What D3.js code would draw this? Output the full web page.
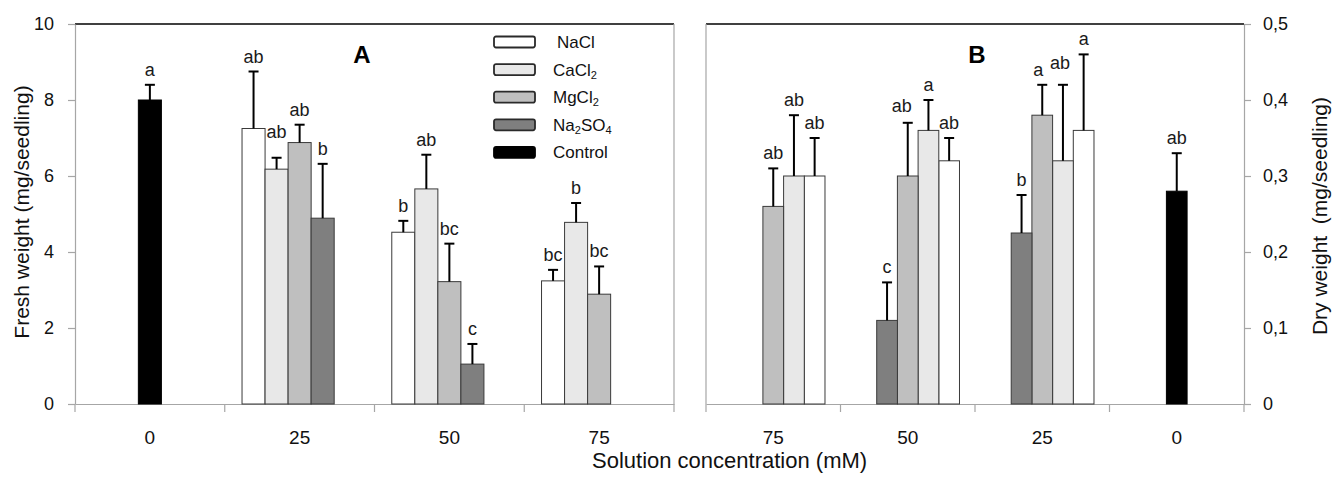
<!DOCTYPE html>
<html>
<head>
<meta charset="utf-8">
<script src="https://cdn.jsdelivr.net/npm/d3@7"></script>
<style>
  html, body { margin: 0; padding: 0; background: #fff; }
  svg { display: block; font-family: "Liberation Sans", Arial, sans-serif; }
</style>
</head>
<body>
<svg id="chart" width="1336" height="477"></svg>
<script>
// ─── Datos ────────────────────────────────────────────────────────────────────

const series  = ['NaCl', 'CaCl2', 'MgCl2', 'Na2SO4', 'Control'];
const groupsA = ['0', '25', '50', '75'];      // panel A: peso fresco
const groupsB = ['75', '50', '25', '0'];      // panel B: peso seco (eje invertido)

const ticksA = [0, 2, 4, 6, 8, 10];
const ticksB = [0, 0.1, 0.2, 0.3, 0.4, 0.5];

// filas en el orden de `series`, columnas en el orden de groupsA
const freshMean = [
  [null, 7.25, 4.52, 3.24],
  [null, 6.18, 5.66, 4.78],
  [null, 6.88, 3.22, 2.89],
  [null, 4.89, 1.05, null],
  [8.0,  null, null, null],
];
const freshErr = [
  [null, 1.50, 0.30, 0.29],
  [null, 0.30, 0.90, 0.51],
  [null, 0.47, 1.00, 0.73],
  [null, 1.43, 0.53, null],
  [0.40, null, null, null],
];
const freshLetters = [
  [null, 'ab', 'b',  'bc'],
  [null, 'ab', 'ab', 'b'],
  [null, 'ab', 'bc', 'bc'],
  [null, 'b',  'c',  null],
  ['a',  null, null, null],
];

// filas en el orden de `series`, columnas en el orden de groupsB
const dryMean = [
  [0.30, 0.32, 0.36,  null],
  [0.30, 0.36, 0.32,  null],
  [0.26, 0.30, 0.38,  null],
  [null, 0.11, 0.225, null],
  [null, null, null,  0.28],
];
const dryErr = [
  [0.05, 0.03, 0.10, null],
  [0.08, 0.04, 0.10, null],
  [0.05, 0.07, 0.04, null],
  [null, 0.05, 0.05, null],
  [null, null, null, 0.05],
];
const dryLetters = [
  ['ab', 'ab', 'a',  null],
  ['ab', 'a',  'ab', null],
  ['ab', 'ab', 'a',  null],
  [null, 'c',  'b',  null],
  [null, null, null, 'ab'],
];

// ─── Estilo ───────────────────────────────────────────────────────────────────

const FILL = { NaCl: '#ffffff', CaCl2: '#e8e8e8', MgCl2: '#bfbfbf', Na2SO4: '#7f7f7f', Control: '#000000' };
const AXIS = '#a6a6a6';
const TOP = 24, BASE = 404;

// Ajustes manuales de las letras que se solapan (dx, dy)
const NUDGE_A = { 'CaCl2|25': [0, -11] };
const NUDGE_B = { 'CaCl2|25': [-3, -7], 'MgCl2|25': [-4, 0], 'MgCl2|50': [-6, -2] };

const svg = d3.select('#chart');

function subLabel(sel, name) {
  // CaCl2 → CaCl₂ (los números van como subíndice)
  name.match(/[A-Za-z]+|\d+/g).forEach(p => {
    const t = sel.append('tspan').text(p);
    if (/\d/.test(p)) t.attr('font-size', '0.65em').attr('baseline-shift', '-25%');
  });
}

// ─── Panel ────────────────────────────────────────────────────────────────────

function drawPanel({ x0, x1, groups, slotOrder, yMax, ticks, fmt, mean, err, letters, nudge, side, letter, letterX }) {
  const x = d3.scaleBand().domain(groups).range([x0, x1]).paddingInner(0).paddingOuter(0);
  const xs = d3.scaleBand().domain(slotOrder).range([0, x.bandwidth()]).paddingInner(0).paddingOuter(0.75);
  const y = d3.scaleLinear().domain([0, yMax]).range([BASE, TOP]);
  const g = svg.append('g');

  // marco: línea superior negra, lados grises
  g.append('line').attr('x1', x0).attr('x2', x1).attr('y1', TOP).attr('y2', TOP)
    .attr('stroke', '#000').attr('stroke-width', 1.5);
  const frameX = side === 'left' ? x1 : x0;
  g.append('line').attr('x1', frameX).attr('x2', frameX).attr('y1', TOP).attr('y2', BASE)
    .attr('stroke', AXIS).attr('stroke-width', 1.2);

  // eje Y
  const yAxis = (side === 'left' ? d3.axisLeft(y) : d3.axisRight(y))
    .tickValues(ticks).tickFormat(fmt).tickSize(7).tickPadding(side === 'left' ? 14 : 12).tickSizeOuter(0);
  const ya = g.append('g')
    .attr('transform', `translate(${side === 'left' ? x0 : x1},0)`)
    .call(yAxis);
  ya.selectAll('path, line').attr('stroke', AXIS).attr('stroke-width', 1.2);
  ya.selectAll('text').attr('font-size', 18).attr('fill', '#111');
  ya.attr('font-family', null);

  // eje X
  const xa = g.append('g').attr('transform', `translate(0,${BASE})`)
    .call(d3.axisBottom(x).tickSize(0).tickPadding(27).tickSizeOuter(0));
  xa.select('.domain').attr('stroke', AXIS).attr('stroke-width', 1.2);
  xa.selectAll('text').attr('font-size', 19).attr('fill', '#111');
  xa.attr('font-family', null);
  const bounds = groups.map(d => x(d)).concat([x1]);
  xa.selectAll('.bound').data(bounds).join('line').attr('class', 'bound')
    .attr('x1', d => d).attr('x2', d => d).attr('y1', 0).attr('y2', 8)
    .attr('stroke', AXIS).attr('stroke-width', 1.2);

  // barras
  const rows = [];
  series.forEach((s, si) => groups.forEach((grp, gi) => {
    const v = mean[si][gi];
    if (v == null) return;
    const bw = xs.bandwidth();
    const left = s === 'Control'
      ? x(grp) + x.bandwidth() / 2 - bw / 2
      : x(grp) + xs(s);
    rows.push({ s, grp, v, e: err[si][gi], txt: letters[si][gi], left, bw });
  }));

  g.append('g').selectAll('rect').data(rows).join('rect')
    .attr('x', d => d.left).attr('width', d => d.bw)
    .attr('y', d => y(d.v)).attr('height', d => BASE - y(d.v))
    .attr('fill', d => FILL[d.s])
    .attr('stroke', d => d.s === 'Control' ? '#000' : '#3a3a3a')
    .attr('stroke-width', 1);

  // barras de error (solo la mitad superior)
  const eb = g.append('g').attr('stroke', '#000').attr('stroke-width', 2);
  rows.forEach(d => {
    const cx = d.left + d.bw / 2;
    const yt = y(d.v + d.e);
    eb.append('line').attr('x1', cx).attr('x2', cx).attr('y1', y(d.v)).attr('y2', yt);
    eb.append('line').attr('x1', cx - 5).attr('x2', cx + 5).attr('y1', yt).attr('y2', yt);
  });

  // letras de significancia
  g.append('g').selectAll('text').data(rows.filter(d => d.txt)).join('text')
    .attr('x', d => d.left + d.bw / 2 + (nudge[`${d.s}|${d.grp}`] || [0, 0])[0])
    .attr('y', d => y(d.v + d.e) - 9 + (nudge[`${d.s}|${d.grp}`] || [0, 0])[1])
    .attr('text-anchor', 'middle')
    .attr('font-size', 18).attr('fill', '#1a1a1a')
    .text(d => d.txt);

  // letra del panel
  g.append('text').attr('x', letterX).attr('y', 63)
    .attr('text-anchor', 'middle').attr('font-size', 24).attr('font-weight', 'bold')
    .text(letter);
}

drawPanel({
  x0: 75, x1: 674, groups: groupsA, slotOrder: series, yMax: 10,
  ticks: ticksA, fmt: d3.format('d'),
  mean: freshMean, err: freshErr, letters: freshLetters, nudge: NUDGE_A,
  side: 'left', letter: 'A', letterX: 362,
});

drawPanel({
  x0: 706, x1: 1244, groups: groupsB, slotOrder: series.slice().reverse(), yMax: 0.5,
  ticks: ticksB, fmt: d => d === 0 ? '0' : d3.format('.1f')(d).replace('.', ','),
  mean: dryMean, err: dryErr, letters: dryLetters, nudge: NUDGE_B,
  side: 'right', letter: 'B', letterX: 977,
});

// ─── Leyenda ──────────────────────────────────────────────────────────────────

const legend = svg.append('g').attr('transform', 'translate(494,42)');
const li = legend.selectAll('g').data(series).join('g')
  .attr('transform', (d, i) => `translate(0,${i * 27.6})`);
li.append('rect')
  .attr('x', 0).attr('y', -5.5).attr('width', 41).attr('height', 11).attr('rx', 2)
  .attr('fill', d => FILL[d])
  .attr('stroke', d => d === 'Control' ? '#000' : '#2a2a2a')
  .attr('stroke-width', 1.8);
li.append('text')
  .attr('x', (d, i) => i === 0 ? 63 : 59).attr('y', 6)
  .attr('font-size', 17).attr('fill', '#111')
  .each(function(d) { subLabel(d3.select(this), d); });

// ─── Títulos de ejes ──────────────────────────────────────────────────────────

svg.append('text')
  .attr('transform', 'translate(29,212) rotate(-90)')
  .attr('text-anchor', 'middle').attr('font-size', 21).attr('fill', '#111')
  .text('Fresh weight (mg/seedling)');

svg.append('text')
  .attr('transform', 'translate(1327,216) rotate(-90)')
  .attr('text-anchor', 'middle').attr('font-size', 21).attr('fill', '#111')
  .attr('xml:space', 'preserve')
  .text('Dry weight  (mg/seedling)');

svg.append('text')
  .attr('x', 592).attr('y', 468)
  .attr('font-size', 22).attr('fill', '#111')
  .text('Solution concentration (mM)');
</script>
</body>
</html>
